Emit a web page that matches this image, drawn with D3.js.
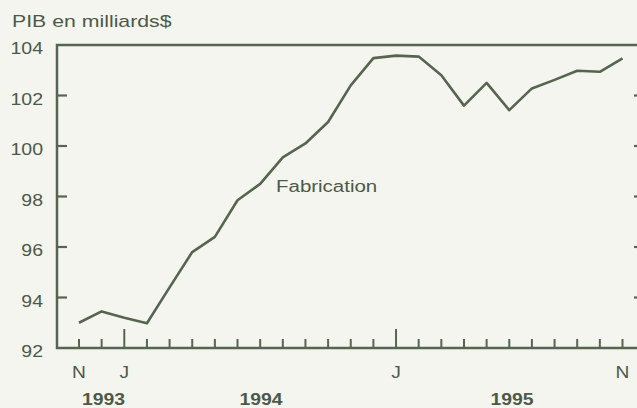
<!DOCTYPE html>
<meta charset="utf-8">
<style>
  body { margin: 0; background: #f5f5f0; }
  svg { display: block; }
</style>
<body>
<div id="chart"></div>
<script src="https://cdn.jsdelivr.net/npm/d3@7"></script>
<script>

// monthly data, Nov 1993 -> Nov 1995
var months = ["1993-11","1993-12","1994-01","1994-02","1994-03","1994-04","1994-05",
    "1994-06","1994-07","1994-08","1994-09","1994-10","1994-11","1994-12",
    "1995-01","1995-02","1995-03","1995-04","1995-05","1995-06","1995-07",
    "1995-08","1995-09","1995-10","1995-11"];
var gdp = [93.0, 93.45, 93.2, 92.98, 94.4, 95.8, 96.4, 97.85, 98.5, 99.55, 100.1, 100.95,
    102.4, 103.48, 103.58, 103.54, 102.8, 101.6, 102.5, 101.42, 102.28, 102.62, 102.98,
    102.94, 103.47];
var yTicks = [92, 94, 96, 98, 100, 102, 104];
var monthLabels = [{"month": "1993-11", "text": "N"}, {"month": "1994-01", "text": "J"},
    {"month": "1995-01", "text": "J"}, {"month": "1995-11", "text": "N"}];
var yearLabels = [{"text": "1993", "x": 103.5}, {"text": "1994", "x": 261}, {"text": "1995", "x": 512}];
var majorMonths = ["1994-01", "1995-01"];

var w = 637, h = 408;
var ink = "#56654f";
var txt = "#4c5949";
var font = "Liberation Sans, Arial, Helvetica, sans-serif";

var svg = d3.select("#chart")
    .append("svg")
    .attr("width", w)
    .attr("height", h);

svg.append("rect")
    .attr("width", w)
    .attr("height", h)
    .attr("fill", "#f5f5f0");

var x = d3.scalePoint().domain(months).range([79, 622.5]);
var y = d3.scaleLinear().domain([92, 104]).range([348, 45]);

var left = 57, right = 643;

// stretched text like the scanned original
function label(t, px, py, size, sx, anchor, weight) {
    return svg.append("text")
        .text(t)
        .attr("transform", "translate(" + px + "," + py + ") scale(" + sx + ",1)")
        .attr("text-anchor", anchor || "start")
        .attr("font-family", font)
        .attr("font-size", size)
        .attr("font-weight", weight || "normal")
        .attr("fill", txt);
}

// frame: left axis, top line, bottom axis, right axis
svg.append("path")
    .attr("d", "M" + right + "," + y(104) + "H" + left + "V" + y(92) + "H" + right + "V" + y(104))
    .attr("fill", "none")
    .attr("stroke", ink)
    .attr("stroke-width", 2.5);

// y ticks both sides
var inner = yTicks.slice(1, -1);
svg.selectAll(".ytl")
    .data(inner)
    .enter()
    .append("line")
    .attr("x1", left)
    .attr("x2", left + 10)
    .attr("y1", function(d) {return y(d);})
    .attr("y2", function(d) {return y(d);})
    .attr("stroke", ink)
    .attr("stroke-width", 2.2);

svg.selectAll(".ytr")
    .data(inner)
    .enter()
    .append("line")
    .attr("x1", right)
    .attr("x2", right - 9)
    .attr("y1", function(d) {return y(d);})
    .attr("y2", function(d) {return y(d);})
    .attr("stroke", ink)
    .attr("stroke-width", 2.2);

yTicks.forEach(function(d) {
    label(d, 43, y(d) + 9, 16, 1.22, "end");
});

// x ticks, monthly; january taller
svg.selectAll(".xt")
    .data(months)
    .enter()
    .append("line")
    .attr("x1", function(d) {return x(d);})
    .attr("x2", function(d) {return x(d);})
    .attr("y1", y(92))
    .attr("y2", function(d) {return majorMonths.indexOf(d) >= 0 ? y(92) - 19 : y(92) - 9;})
    .attr("stroke", ink)
    .attr("stroke-width", 2);

monthLabels.forEach(function(d) {
    label(d.text, x(d.month), 378, 16, 1.2, "middle");
});

yearLabels.forEach(function(d) {
    label(d.text, d.x, 405, 17, 1.14, "middle", "bold");
});

// series
var line = d3.line()
    .x(function(d, i) {return x(months[i]);})
    .y(function(d) {return y(d);});

svg.append("path")
    .datum(gdp)
    .attr("d", line)
    .attr("fill", "none")
    .attr("stroke", ink)
    .attr("stroke-width", 2.6)
    .attr("stroke-linejoin", "round");

label("PIB en milliards$", 12, 27, 16, 1.33);
label("Fabrication", 276, 192, 16, 1.28);

</script>
</body>
